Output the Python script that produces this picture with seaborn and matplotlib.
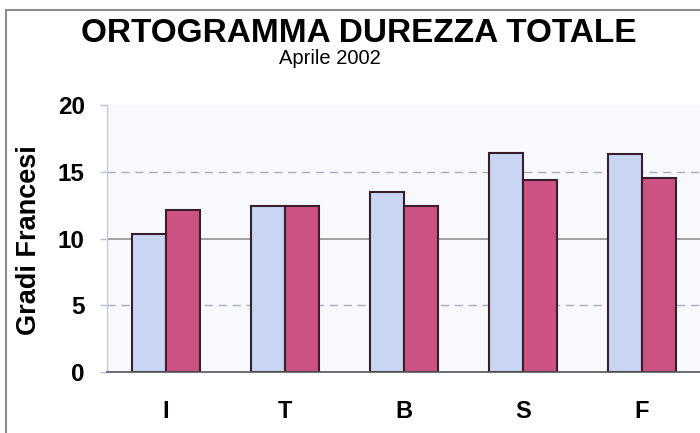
import matplotlib
matplotlib.use("Agg")
import matplotlib.pyplot as plt
from matplotlib.patches import Rectangle
import seaborn as sns
import pandas as pd

categories = ["I", "T", "B", "S", "F"]
serie_1 = [10.3, 12.4, 13.5, 16.4, 16.3]
serie_2 = [12.1, 12.4, 12.4, 14.4, 14.5]
series_names = ["Serie 1", "Serie 2"]
yticks = [0, 5, 10, 15, 20]

df = pd.DataFrame({
    "cat": categories * 2,
    "val": serie_1 + serie_2,
    "serie": [series_names[0]] * len(categories) + [series_names[1]] * len(categories),
})

sns.set_theme(style="white")
plt.rcParams["font.family"] = ["Liberation Sans", "DejaVu Sans"]
plt.rcParams["text.color"] = "black"
plt.rcParams["xtick.color"] = "black"
plt.rcParams["ytick.color"] = "black"
plt.rcParams["axes.labelcolor"] = "black"

fig = plt.figure(figsize=(7, 4.33), dpi=100)
fig.patch.set_facecolor("white")
ax = fig.add_axes([107 / 700, 61 / 433, 1 - 107 / 700, 267 / 433])
ax.set_facecolor("#f7f9fd")

sns.barplot(data=df, x="cat", y="val", hue="serie", order=categories,
            hue_order=series_names, palette=["#c8d5f3", "#cc5283"], saturation=1,
            width=0.57, edgecolor="#3a1e2c", linewidth=1.5, ax=ax,
            legend=False, zorder=3)

ax.set_xlim(-0.496, 4.487)
ax.set_ylim(0, 20)
ax.set_yticks(yticks)
ax.set_yticklabels([str(t) for t in yticks], fontsize=17.5, fontweight="bold")
ax.tick_params(axis="y", length=5, width=1, color="#b8c0d8", pad=11, direction="out", left=True)
ax.tick_params(axis="x", length=0, pad=20, labelsize=17)
for lbl in ax.get_xticklabels():
    lbl.set_fontweight("bold")

ax.axhline(10, color="#8a8a8a", lw=1.1, zorder=1)
for yv in (5, 15):
    ax.axhline(yv, color="#a9adc0", lw=1.0, ls=(0, (6, 4)), zorder=1)

for s in ("top", "right"):
    ax.spines[s].set_visible(False)
ax.spines["left"].set_color("#c4cade")
ax.spines["left"].set_linewidth(1.0)
ax.spines["bottom"].set_color("#555555")
ax.spines["bottom"].set_linewidth(1.2)
ax.spines["bottom"].set_zorder(4)

ax.set_xlabel("")
ax.set_ylabel("")
fig.text(29 / 700, 1 - 240 / 433, "Gradi Francesi", rotation=90, ha="center", va="center",
         fontsize=19.5, fontweight="bold")

fig.text(359 / 700, 1 - 33 / 433, "ORTOGRAMMA DUREZZA TOTALE", ha="center", va="center",
         fontsize=24, fontweight="bold")
fig.text(330 / 700, 1 - 58 / 433, "Aprile 2002", ha="center", va="center", fontsize=14.5)

fig.patches.append(Rectangle((6 / 700, -0.1), 1.2, 1.1 - 10 / 433,
                             transform=fig.transFigure, fill=False,
                             edgecolor="#8c8c8c", linewidth=1.5, zorder=10))

fig.savefig("out.png", dpi=100)
